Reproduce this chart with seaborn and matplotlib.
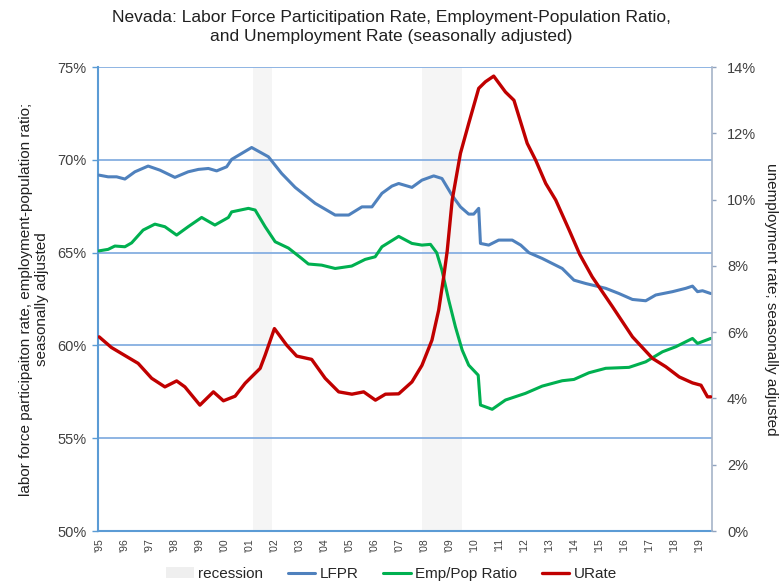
import numpy as np
import pandas as pd
import matplotlib
matplotlib.use("Agg")
import matplotlib.pyplot as plt
from matplotlib.ticker import FuncFormatter
from matplotlib.patches import Patch
from matplotlib.lines import Line2D
import seaborn as sns

# LFPR (left axis, %)
lfpr_t = [1995.0, 1995.36, 1995.7, 1996.03, 1996.43, 1996.96, 1997.43, 1998.03, 1998.56, 1998.97,
          1999.37, 1999.7, 2000.1, 2000.3, 2000.7, 2001.1, 2001.77, 2002.3, 2002.84, 2003.64,
          2004.44, 2004.98, 2005.51, 2005.91, 2006.31, 2006.71, 2006.98, 2007.51, 2007.91, 2008.38,
          2008.71, 2009.11, 2009.45, 2009.78, 2009.98, 2010.18, 2010.25, 2010.58, 2010.98, 2011.52,
          2011.86, 2012.19, 2012.72, 2013.52, 2013.99, 2014.46, 2015.26, 2015.79, 2016.33, 2016.86,
          2017.26, 2017.93, 2018.46, 2018.73, 2018.93, 2019.13, 2019.46]
lfpr_v = [69.18, 69.09, 69.09, 68.97, 69.36, 69.67, 69.45, 69.06, 69.36, 69.49,
          69.54, 69.41, 69.63, 70.03, 70.35, 70.67, 70.17, 69.27, 68.52, 67.66,
          67.03, 67.03, 67.47, 67.47, 68.2, 68.59, 68.73, 68.52, 68.91, 69.14,
          69.0, 68.1, 67.47, 67.08, 67.08, 67.39, 65.5, 65.41, 65.68, 65.68,
          65.41, 65.0, 64.69, 64.15, 63.52, 63.34, 63.08, 62.8, 62.48, 62.41,
          62.72, 62.9, 63.08, 63.2, 62.9, 62.95, 62.8]

# Employment-population ratio (left axis, %)
emp_t = [1995.0, 1995.36, 1995.63, 1996.03, 1996.3, 1996.76, 1997.23, 1997.63, 1998.1, 1998.56,
         1999.1, 1999.63, 2000.17, 2000.3, 2000.97, 2001.24, 2001.64, 2002.04, 2002.57, 2003.1,
         2003.37, 2003.9, 2004.44, 2005.1, 2005.64, 2006.04, 2006.31, 2006.98, 2007.51, 2007.91,
         2008.25, 2008.5, 2008.71, 2008.98, 2009.25, 2009.52, 2009.78, 2010.16, 2010.25, 2010.72,
         2011.25, 2012.05, 2012.72, 2013.52, 2013.99, 2014.59, 2015.26, 2016.19, 2016.86, 2017.53,
         2018.06, 2018.73, 2018.93, 2019.46]
emp_v = [65.1, 65.18, 65.36, 65.32, 65.53, 66.22, 66.54, 66.4, 65.95, 66.4,
         66.9, 66.49, 66.9, 67.2, 67.39, 67.3, 66.4, 65.59, 65.25, 64.69,
         64.39, 64.33, 64.15, 64.28, 64.64, 64.78, 65.32, 65.88, 65.5, 65.41,
         65.45, 65.0, 64.06, 62.45, 61.0, 59.75, 58.94, 58.4, 56.79, 56.56,
         57.06, 57.42, 57.81, 58.1, 58.17, 58.53, 58.77, 58.82, 59.12, 59.66,
         59.93, 60.38, 60.11, 60.38]

# Unemployment rate (right axis, %)
ur_t = [1995.0, 1995.49, 1995.89, 1996.56, 1997.1, 1997.63, 1998.1, 1998.43, 1999.03, 1999.57,
        1999.97, 2000.44, 2000.84, 2001.44, 2001.64, 2002.01, 2002.5, 2002.9, 2003.5, 2004.04,
        2004.58, 2005.11, 2005.58, 2006.05, 2006.45, 2006.98, 2007.51, 2007.91, 2008.31, 2008.58,
        2008.78, 2008.92, 2009.12, 2009.45, 2009.78, 2010.18, 2010.45, 2010.78, 2011.25, 2011.59,
        2012.12, 2012.46, 2012.86, 2013.26, 2013.8, 2014.22, 2014.72, 2015.53, 2016.33, 2017.13,
        2017.66, 2018.2, 2018.73, 2019.07, 2019.33, 2019.46]
ur_v = [5.86, 5.54, 5.36, 5.06, 4.61, 4.35, 4.53, 4.35, 3.8, 4.2,
        3.93, 4.07, 4.46, 4.91, 5.31, 6.11, 5.61, 5.28, 5.18, 4.61,
        4.2, 4.13, 4.2, 3.95, 4.13, 4.14, 4.5, 5.0, 5.76, 6.67,
        7.67, 8.45, 9.99, 11.4, 12.3, 13.36, 13.56, 13.73, 13.25, 13.0,
        11.7, 11.19, 10.49, 9.99, 9.08, 8.35, 7.67, 6.77, 5.86, 5.21,
        4.96, 4.65, 4.47, 4.4, 4.05, 4.05]

recessions = [(2001.17, 2001.9), (2007.9, 2009.5)]
years = list(range(1995, 2020))

c_lfpr = "#4F81BD"
c_emp = "#00B050"
c_ur = "#C00000"
c_grid = "#8EB4E3"
c_rec = "#F5F5F5"

sns.set_style("white")
plt.rcParams["font.family"] = ["Liberation Sans", "DejaVu Sans"]

df_lfpr = pd.DataFrame({"t": lfpr_t, "v": lfpr_v})
df_emp = pd.DataFrame({"t": emp_t, "v": emp_v})
df_ur = pd.DataFrame({"t": ur_t, "v": ur_v})

fig = plt.figure(figsize=(7.83, 5.82), dpi=100)
ax = fig.add_axes([0.125, 0.0876, 0.784, 0.797])
ax2 = ax.twinx()

# recession shading
for a, b in recessions:
    ax.axvspan(a, b, color=c_rec, zorder=0, lw=0)

for y in [55, 60, 65, 70, 75]:
    ax.axhline(y, color=c_grid, lw=1.4, zorder=1)

sns.lineplot(data=df_lfpr, x="t", y="v", ax=ax, color=c_lfpr, lw=2.2, zorder=3)
sns.lineplot(data=df_emp, x="t", y="v", ax=ax, color=c_emp, lw=2.2, zorder=3)
sns.lineplot(data=df_ur, x="t", y="v", ax=ax2, color=c_ur, lw=2.4, zorder=3)

ax.set_xlim(1994.95, 2019.5)
ax.set_ylim(50, 75)
ax2.set_ylim(0, 14)

ax.set_xticks(years)
ax.set_xticklabels(["'" + str(y)[2:] for y in years], rotation=90, fontsize=7.5, color="#404040")
ax.set_yticks([50, 55, 60, 65, 70, 75])
ax.yaxis.set_major_formatter(FuncFormatter(lambda v, p: f"{v:.0f}%"))
ax2.set_yticks(range(0, 15, 2))
ax2.yaxis.set_major_formatter(FuncFormatter(lambda v, p: f"{v:.0f}%"))

ax.tick_params(axis="x", direction="inout", length=6, width=1, color="#5B9BD5", pad=2)
ax.tick_params(axis="y", direction="out", length=4, width=1, color="#5B9BD5", labelsize=10.5, labelcolor="#404040", pad=4)
ax2.tick_params(axis="y", direction="out", length=3, width=1, color="#8FA3BF", labelsize=10.5, labelcolor="#404040", pad=8)

for a in (ax, ax2):
    a.spines["top"].set_visible(False)
ax.spines["left"].set_color("#5B9BD5")
ax.spines["left"].set_linewidth(1.5)
ax.spines["bottom"].set_color("#5B9BD5")
ax.spines["bottom"].set_linewidth(1.5)
ax.spines["right"].set_visible(False)
ax2.spines["left"].set_visible(False)
ax2.spines["bottom"].set_visible(False)
ax2.spines["right"].set_color("#A6B4C8")
ax2.spines["right"].set_linewidth(1.2)

ax.set_xlabel("")
ax.set_ylabel("labor force participaiton rate, employment-population ratio;\nseasonally adjusted",
              fontsize=11, color="#202020", labelpad=6)
ax2.set_ylabel("unemployment rate; seasonally adjusted", fontsize=11, color="#202020",
               rotation=270, labelpad=16)

fig.suptitle("Nevada: Labor Force Particitipation Rate, Employment-Population Ratio,\nand Unemployment Rate (seasonally adjusted)",
             fontsize=12.5, color="#202020", y=0.982, linespacing=1.3)

handles = [Patch(facecolor="#EFEFEF", edgecolor="none", label="recession"),
           Line2D([0], [0], color=c_lfpr, lw=2.2, label="LFPR"),
           Line2D([0], [0], color=c_emp, lw=2.2, label="Emp/Pop Ratio"),
           Line2D([0], [0], color=c_ur, lw=2.4, label="URate")]
fig.legend(handles=handles, loc="lower center", bbox_to_anchor=(0.5, -0.022), ncol=4, frameon=False,
           fontsize=11, handlelength=1.8, handletextpad=0.3, columnspacing=1.6)

fig.savefig("out.png", dpi=100)
